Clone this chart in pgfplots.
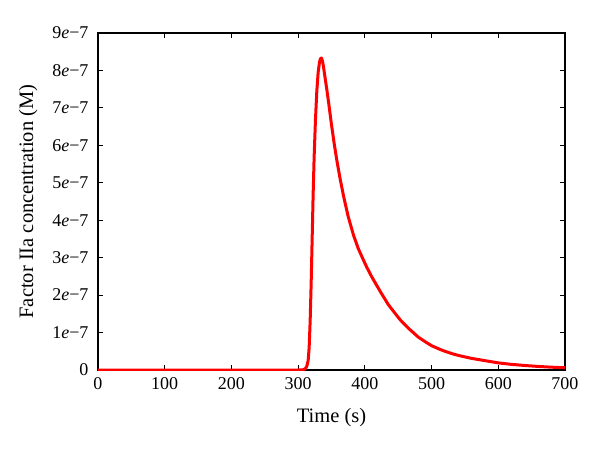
\documentclass[border=0pt]{standalone}
\usepackage{pgfplots}
\pgfplotsset{compat=1.18}
\usepackage{fontspec}
\setmainfont{Liberation Serif}

\begin{document}
\begin{tikzpicture}
\useasboundingbox (-98pt,-78pt) rectangle (502pt,370pt);
\begin{axis}[
    at={(0pt,0pt)}, anchor=south west,
    scale only axis,
    width=467pt, height=337pt,
    xmin=0, xmax=700, ymin=0, ymax=9e-7,
    xtick={0,100,...,700},
    ytick={0,1e-7,2e-7,3e-7,4e-7,5e-7,6e-7,7e-7,8e-7,9e-7},
    yticklabels={0,1\textit{e}−7,2\textit{e}−7,3\textit{e}−7,4\textit{e}−7,5\textit{e}−7,6\textit{e}−7,7\textit{e}−7,8\textit{e}−7,9\textit{e}−7},
    scaled y ticks=false,
    /pgf/number format/assume math mode=true,
    tick label style={font=\fontsize{18}{21}\selectfont},
    label style={font=\fontsize{20.5}{24}\selectfont},
    xlabel={Time (s)},
    ylabel={Factor IIa concentration (M)},
    axis line style={line width=1.2pt},
    major tick style={line width=1pt, black},
    major tick length=5pt,
    xticklabel style={yshift=-4pt},
    yticklabel style={xshift=-6pt},
    xlabel style={yshift=-12pt},
    ylabel style={yshift=8pt},
]
\addplot[red, line width=3pt, line join=round] coordinates {
(0,0) (300,0) (305,0.002e-7) (308,0.01e-7) (311,0.04e-7) (313,0.1e-7)
(315,0.25e-7) (316.5,0.6e-7) (318,1.3e-7) (319.5,2.3e-7) (321,3.5e-7)
(322.5,4.7e-7) (324,5.7e-7) (326,6.7e-7) (328,7.45e-7) (330,7.95e-7)
(332,8.22e-7) (333.5,8.32e-7) (335,8.33e-7) (336.5,8.25e-7) (338,8.1e-7)
(340,7.85e-7) (343,7.49e-7) (346,7.1e-7) (350,6.55e-7) (354,6.05e-7)
(358,5.6e-7) (363,5.1e-7) (368,4.65e-7) (375,4.1e-7) (383,3.6e-7)
(390,3.25e-7) (397,2.97e-7) (403,2.74e-7) (410,2.5e-7) (423,2.1e-7)
(435,1.75e-7) (445,1.52e-7) (453,1.34e-7) (465,1.12e-7) (480,0.88e-7)
(490,0.76e-7) (500,0.65e-7) (510,0.57e-7) (520,0.5e-7) (530,0.44e-7)
(540,0.39e-7) (550,0.35e-7) (560,0.31e-7) (570,0.28e-7) (580,0.25e-7)
(590,0.22e-7) (600,0.19e-7) (620,0.15e-7) (640,0.12e-7) (660,0.095e-7)
(680,0.075e-7) (700,0.06e-7)
};
\end{axis}
\end{tikzpicture}
\end{document}
